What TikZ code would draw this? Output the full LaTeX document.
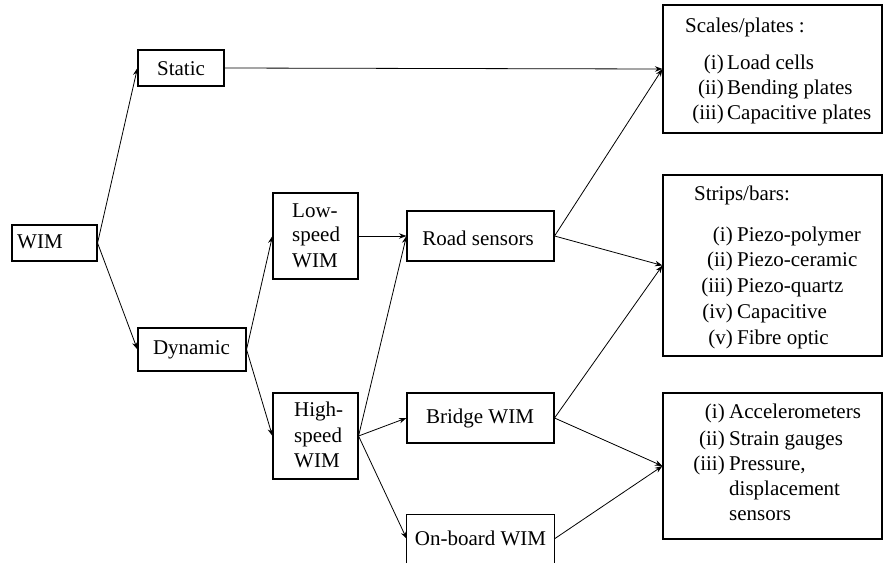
\documentclass[tikz,border=0pt]{standalone}
\usepackage{fontspec}
\setmainfont{Liberation Serif}
\newfontfamily\labelfont{Liberation Serif}
\usetikzlibrary{arrows.meta}

\begin{document}
\begin{tikzpicture}[x=1pt,y=-1pt,
  box/.style={draw, line width=1.1pt, rectangle, inner sep=0pt},
  txt/.style={inner sep=0pt, font=\labelfont\fontsize{21}{25}\selectfont},
  conn/.style={line width=0.8pt, -{Stealth[length=7.5pt,width=5.5pt]}},
]
\useasboundingbox (0,0) rectangle (884,563);
\clip (0,0) rectangle (884,563);

% helper: box from (x1,y1) to (x2,y2)
\newcommand{\boxat}[5]{%
  \node[box, minimum width={#4-#2}, minimum height={#5-#3}]
    (#1) at ({(#2+#4)/2},{(#3+#5)/2}) {};}

% ---------- boxes ----------
\boxat{wim}{12}{225}{97}{261}
\boxat{static}{138}{50}{224}{86}
\boxat{dyn}{138}{328}{246}{371}
\boxat{low}{273}{193}{358}{279}
\boxat{high}{273}{393}{358}{479}
\boxat{road}{407}{211}{554}{261}
\boxat{bridge}{407}{393}{554}{443}
\node[inner sep=0pt, minimum width=147pt, minimum height=48pt] (onb) at (480.5,539) {};
\draw[line width=1.1pt] (onb.south west) -- (onb.north west) -- (onb.north east) -- (onb.south east);
\boxat{scales}{663}{5}{882}{133}
\boxat{strips}{663}{175}{882}{356}
\boxat{other}{663}{393}{882}{539}

% ---------- box texts ----------
\node[txt, anchor=base west] (t-wim) at (17,248) {WIM};
\node[txt, anchor=base] (t-static) at (181,75) {Static};
\node[txt, anchor=base] (t-dyn) at (191.5,354) {Dynamic};
\node[txt, anchor=base west] (t-low1) at (292,217) {Low-};
\node[txt, anchor=base west] (t-low2) at (292,241) {speed};
\node[txt, anchor=base west] (t-low3) at (292,267) {WIM};
\node[txt, anchor=base west] (t-high1) at (294,416) {High-};
\node[txt, anchor=base west] (t-high2) at (294,442) {speed};
\node[txt, anchor=base west] (t-high3) at (294,467) {WIM};
\node[txt, anchor=base] (t-road) at (478,245) {Road sensors};
\node[txt, anchor=base] (t-bridge) at (480,423) {Bridge WIM};
\node[txt, anchor=base] (t-onb) at (480.5,545) {On-board WIM};

% list: scales / plates
\node[txt, anchor=base west] (h-scales) at (685,32) {Scales/plates :};
\foreach \lab/\item/\yy [count=\k] in {(i)/Load cells/69, (ii)/Bending plates/94, (iii)/Capacitive plates/119}{
  \node[txt, anchor=base east] (sl\k) at (724,\yy) {\lab};
  \node[txt, anchor=base west] (si\k) at (727,\yy) {\item};
}

% list: strips / bars
\node[txt, anchor=base west] (h-strips) at (694,200) {Strips/bars:};
\foreach \lab/\item/\yy [count=\k] in {(i)/Piezo-polymer/241, (ii)/Piezo-ceramic/266, (iii)/Piezo-quartz/292, (iv)/Capacitive/318, (v)/Fibre optic/344}{
  \node[txt, anchor=base east] (bl\k) at (733,\yy) {\lab};
  \node[txt, anchor=base west] (bi\k) at (737,\yy) {\item};
}

% list: bridge / on-board sensors
\foreach \lab/\item/\yy [count=\k] in {(i)/Accelerometers/418, (ii)/Strain gauges/445, (iii)/{Pressure,}/470}{
  \node[txt, anchor=base east] (ol\k) at (725,\yy) {\lab};
  \node[txt, anchor=base west] (oi\k) at (729,\yy) {\item};
}
\node[txt, anchor=base west] (oi4) at (729,495) {displacement};
\node[txt, anchor=base west] (oi5) at (729,520) {sensors};

% ---------- connectors ----------
\draw[conn] (wim.east) -- (static.west);
\draw[conn] (wim.east) -- (dyn.west);
\draw[conn] (static.east) -- (scales.west);
\draw[conn] (dyn.east) -- (low.west);
\draw[conn] (dyn.east) -- (high.west);
\draw[conn] (low.east) -- (road.west);
\draw[conn] (high.east) -- (road.west);
\draw[conn] (high.east) -- (bridge.west);
\draw[conn] (high.east) -- (onb.west);
\draw[conn] (road.east) -- (scales.west);
\draw[conn] (road.east) -- (strips.west);
\draw[conn] (bridge.east) -- (strips.west);
\draw[conn] (bridge.east) -- (other.west);
\draw[conn] (onb.east) -- (other.west);
\end{tikzpicture}
\end{document}
